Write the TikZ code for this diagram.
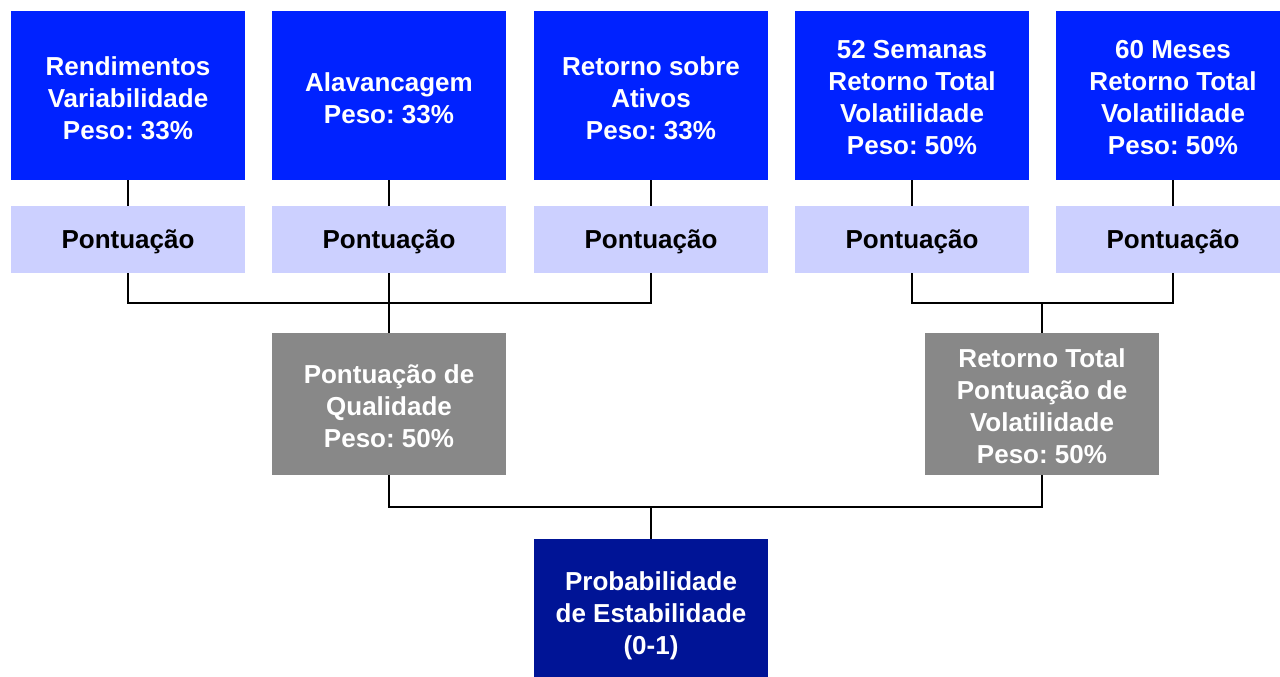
\documentclass[tikz,border=0pt]{standalone}
\usepackage{fontspec}
\setmainfont{Liberation Sans}
\frenchspacing
\definecolor{topblue}{RGB}{0,34,255}
\definecolor{lightblue}{RGB}{204,208,255}
\definecolor{boxgray}{RGB}{136,136,136}
\definecolor{darkblue}{RGB}{0,20,150}
\begin{document}
\begin{tikzpicture}[x=1pt,y=-1pt,
  base/.style={rectangle,inner sep=0pt,minimum width=234pt},
  txt/.style={align=center,inner sep=0pt,yshift=-2.5pt,
    font=\fontsize{26}{32}\selectfont\bfseries},
  topbox/.style={base,fill=topblue,minimum height=169pt},
  scorebox/.style={base,fill=lightblue,minimum height=67pt},
  graybox/.style={base,fill=boxgray,minimum height=142pt},
  finalbox/.style={base,fill=darkblue,minimum height=138pt},
  wt/.style={txt,text=white},
  bt/.style={txt,text=black},
  conn/.style={draw=black,line width=1.2pt}]
\useasboundingbox (0,0) rectangle (1280,677);
\node[topbox,label={[wt]center:{Rendimentos\\Variabilidade\\Peso: 33\%}}] (t1) at (128,95.5) {};
\node[topbox,label={[wt]center:{Alavancagem\\Peso: 33\%}}] (t2) at (389,95.5) {};
\node[topbox,label={[wt]center:{Retorno sobre\\Ativos\\Peso: 33\%}}] (t3) at (651,95.5) {};
\node[topbox,label={[wt]center:{52 Semanas\\Retorno Total\\Volatilidade\\Peso: 50\%}}] (t4) at (912,95.5) {};
\node[topbox,label={[wt]center:{60 Meses\\Retorno Total\\Volatilidade\\Peso: 50\%}}] (t5) at (1173,95.5) {};
\foreach \i/\x in {1/128,2/389,3/651,4/912,5/1173}
  \node[scorebox,label={[bt]center:Pontuação}] (p\i) at (\x,239.5) {};
\node[graybox,label={[wt]center:{Pontuação de\\Qualidade\\Peso: 50\%}}] (q) at (389,404) {};
\node[graybox,label={[wt]center:{Retorno Total\\Pontuação de\\Volatilidade\\Peso: 50\%}}] (r) at (1042,404) {};
\node[finalbox,label={[wt,yshift=-5pt]center:{Probabilidade\\de Estabilidade\\(0-1)}}] (f) at (651,608) {};
\coordinate (j1) at (389,303);
\coordinate (j2) at (1042,303);
\coordinate (j3) at (651,507);
\foreach \i in {1,...,5} \draw[conn] (t\i.south) -- (p\i.north);
\draw[conn] (p1.south) |- (j1) -| (p3.south);
\draw[conn] (p2.south) -- (q.north);
\draw[conn] (p4.south) |- (j2) -| (p5.south);
\draw[conn] (j2) -- (r.north);
\draw[conn] (q.south) |- (j3) -| (r.south);
\draw[conn] (j3) -- (f.north);
\end{tikzpicture}
\end{document}
